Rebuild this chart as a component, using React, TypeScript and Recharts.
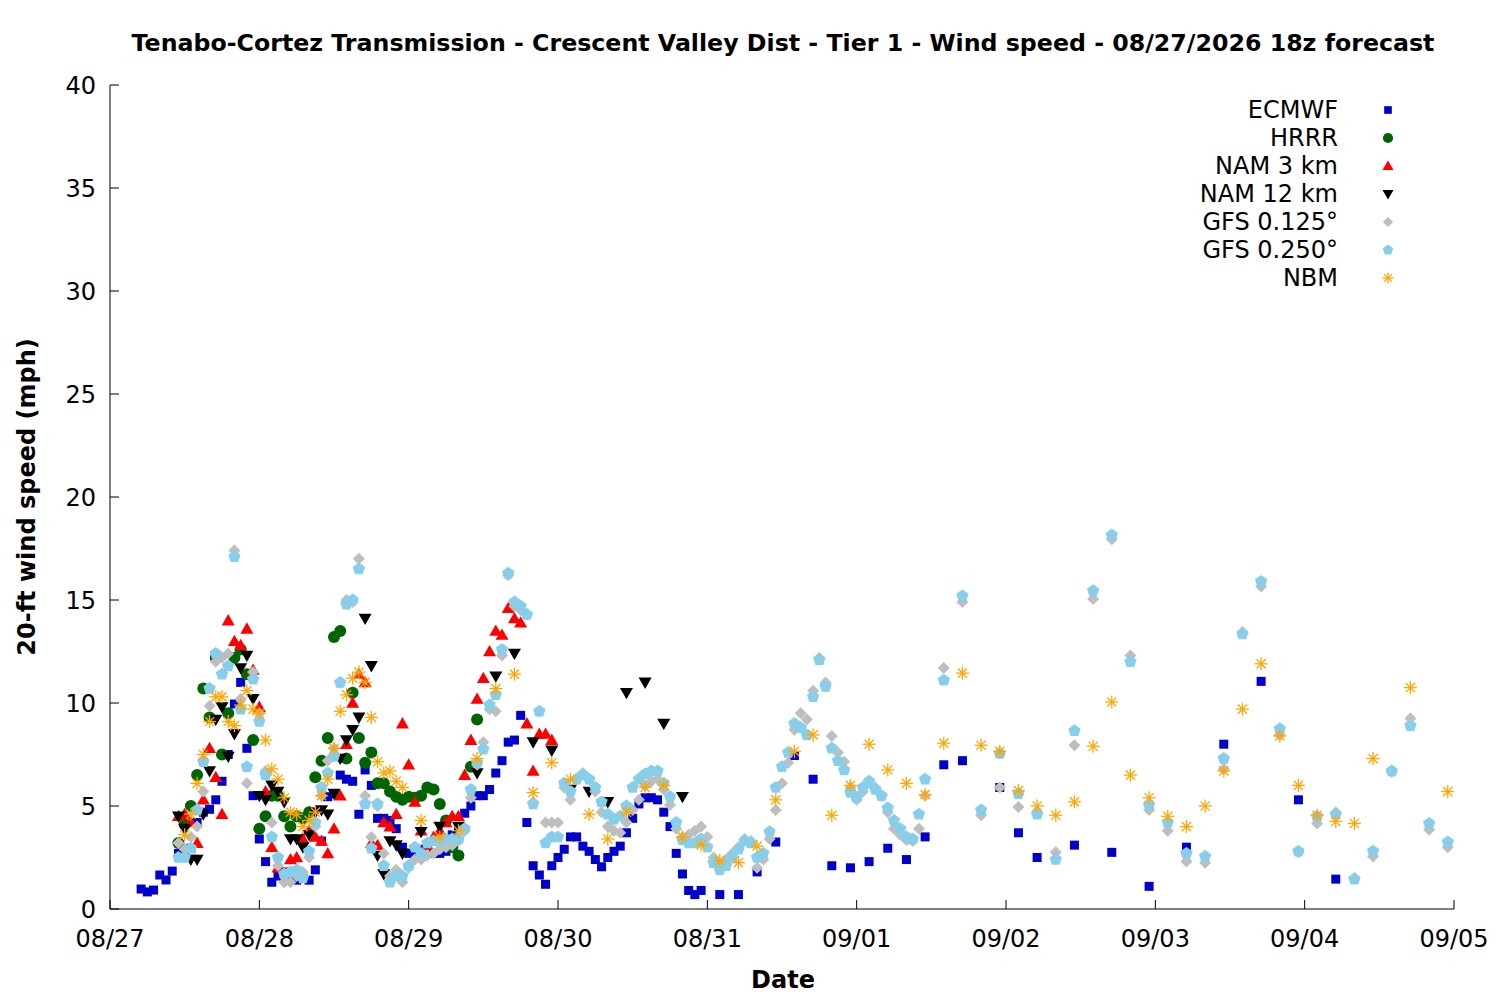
import React from 'react';
import { ScatterChart, Scatter, XAxis, YAxis } from 'recharts';

// hours after 08/27 00:00, wind speed (mph)
const ecmwf: [number, number][] = [
  [5,0.97],[6,0.83],[7,0.92],[8,1.65],[9,1.41],[10,1.84],[11,2.7],[12,2.6],[13,2.95],[14,4.2],
  [15,4.7],[16,4.84],[17,5.3],[18,6.2],[19,7.5],[20,9.95],[21,11.0],[22,7.8],[23,5.5],[24,3.4],
  [25,2.3],[26,1.3],[27,1.6],[28,1.8],[29,1.5],[30,1.4],[31,1.5],[32,1.4],[33,1.9],[34,3.3],
  [35,5.45],[36,5.6],[37,6.5],[38,6.3],[39,6.2],[40,4.6],[41,6.75],[42,6.0],[43,4.4],[44,4.4],
  [45,4.3],[46,3.9],[47,3.0],[48,2.7],[49,2.8],[50,2.9],[51,3.1],[52,2.7],[53,2.7],[54,2.8],
  [55,3.6],[56,4.0],[57,4.65],[58,5.0],[59,5.5],[60,5.5],[61,5.8],[62,6.6],[63,7.2],[64,8.1],
  [65,8.2],[66,9.4],[67,4.2],[68,2.1],[69,1.65],[70,1.2],[71,2.1],[72,2.5],[73,2.9],[74,3.5],
  [75,3.5],[76,3.05],[77,2.8],[78,2.4],[79,2.05],[80,2.5],[81,2.8],[82,3.05],[83,3.7],[84,4.4],
  [85,5.1],[86,5.4],[87,5.4],[88,5.3],[89,4.7],[90,4.0],[91,2.7],[92,1.7],[93,0.9],[94,0.7],
  [95,0.9],[98,0.7],[101,0.7],[104,1.8],[107,3.25],[110,7.45],[113,6.3],[116,2.1],[119,2.0],
  [122,2.3],[125,2.95],[128,2.4],[131,3.5],[134,7.0],[137,7.2],[143,5.9],[146,3.7],[149,2.5],
  [155,3.1],[161,2.75],[167,1.1],[173,3.0],[179,8.0],[185,11.05],[191,5.3],[197,1.45],
];

const hrrr: [number, number][] = [
  [11,3.2],[12,4.1],[13,5.0],[14,6.5],[15,10.7],[16,9.3],[17,12.2],[18,7.5],[19,9.5],[20,12.2],
  [21,12.6],[22,11.4],[23,8.2],[24,3.9],[25,4.5],[26,5.5],[27,5.5],[28,4.5],[29,4.0],[30,4.5],
  [31,4.4],[32,4.7],[33,6.4],[34,7.2],[35,8.3],[36,13.2],[37,13.5],[38,7.3],[39,10.5],[40,8.3],
  [41,7.1],[42,7.6],[43,6.1],[44,6.1],[45,5.7],[46,5.45],[47,5.3],[48,5.45],[49,5.4],[50,5.5],
  [51,5.9],[52,5.8],[53,5.1],[54,4.3],[55,3.0],[56,2.6],[58,6.9],[59,9.2],
];

const nam3: [number, number][] = [
  [11,4.5],[12,4.6],[13,4.2],[14,3.2],[15,5.3],[16,7.8],[17,6.4],[18,4.6],[19,14.0],[20,13.0],
  [21,12.8],[22,13.6],[23,11.6],[24,9.8],[25,5.7],[26,3.0],[27,2.0],[28,1.7],[29,2.4],[30,2.5],
  [31,3.4],[32,3.8],[33,3.5],[34,3.3],[35,2.7],[36,3.9],[37,5.5],[38,8.0],[39,10.0],[40,11.4],
  [41,11.0],[42,3.2],[43,3.1],[44,4.2],[45,4.0],[46,4.6],[47,9.0],[48,7.0],[49,5.2],[50,3.8],
  [51,3.1],[52,3.5],[53,3.8],[54,4.2],[55,4.5],[56,4.5],[57,6.5],[58,8.2],[59,10.2],[60,11.2],
  [61,12.5],[62,13.5],[63,13.3],[64,14.6],[65,14.1],[66,13.9],[67,9.0],[68,6.7],[69,8.5],[70,8.5],
  [71,8.2],
];

const nam12: [number, number][] = [
  [11,4.5],[12,3.9],[13,2.4],[14,2.4],[15,4.6],[16,6.7],[17,9.2],[18,9.8],[19,7.4],[20,8.5],
  [21,11.7],[22,12.3],[23,10.2],[24,5.5],[25,5.3],[26,6.0],[27,5.7],[28,5.2],[29,3.4],[30,3.4],
  [31,3.0],[32,3.6],[33,4.7],[34,4.8],[35,4.6],[36,5.6],[37,7.3],[38,8.2],[39,8.7],[40,9.3],
  [41,14.1],[42,11.8],[43,2.6],[44,1.7],[45,3.3],[46,3.1],[47,2.7],[50,3.75],[53,4.0],[56,4.0],
  [59,6.6],[62,11.3],[65,12.4],[68,8.1],[71,7.7],[74,5.8],[77,5.7],[80,5.2],[83,10.5],[86,11.0],
  [89,9.0],[92,5.45],
];

const gfs0125: [number, number][] = [
  [11,3.2],[12,2.9],[13,3.5],[14,4.0],[15,5.7],[16,9.85],[17,12.0],[18,12.2],[19,12.4],[20,17.4],
  [21,10.2],[22,6.1],[23,11.5],[24,9.5],[25,6.7],[26,4.2],[27,2.1],[28,1.3],[29,1.3],[30,1.6],
  [31,1.8],[32,2.5],[33,4.0],[34,5.5],[35,7.2],[36,7.8],[37,11.0],[38,15.0],[39,14.9],[40,17.0],
  [41,5.5],[42,3.5],[43,5.0],[44,2.7],[45,1.6],[46,1.9],[47,1.3],[48,2.0],[49,2.4],[50,2.4],
  [51,2.6],[52,2.7],[53,2.9],[54,3.0],[55,3.1],[56,3.3],[57,3.8],[58,5.4],[59,7.0],[60,8.1],
  [61,9.7],[62,9.6],[63,12.3],[64,16.2],[65,14.7],[66,14.5],[67,14.3],[68,5.2],[69,9.6],[70,4.2],
  [71,4.2],[72,4.2],[73,5.9],[74,5.3],[75,6.3],[76,6.6],[77,6.3],[78,5.7],[79,4.7],[80,4.0],
  [81,3.8],[82,3.7],[83,4.2],[84,4.8],[85,5.3],[86,6.0],[87,6.2],[88,6.3],[89,5.8],[90,5.05],
  [91,3.9],[92,3.5],[93,3.6],[94,3.8],[95,4.0],[96,3.5],[97,2.5],[98,2.2],[99,2.4],[100,2.7],
  [101,3.0],[102,3.4],[103,3.3],[104,2.0],[105,2.4],[106,3.4],[107,4.8],[108,6.1],[109,7.1],[110,8.7],
  [111,9.5],[112,9.2],[113,10.6],[114,12.2],[115,11.0],[116,8.4],[117,7.6],[118,7.15],[119,5.9],[120,5.3],
  [121,5.7],[122,6.1],[123,5.9],[124,5.5],[125,4.7],[126,3.9],[127,3.6],[128,3.35],[129,3.3],[130,3.9],
  [131,5.5],[134,11.7],[137,14.9],[140,4.55],[143,5.9],[146,4.95],[149,4.7],[152,2.75],[155,7.95],[158,15.05],
  [161,17.95],[164,12.3],[167,4.8],[170,3.8],[173,2.3],[176,2.25],[179,6.8],[182,13.45],[185,15.65],[188,8.45],
  [191,2.75],[194,4.15],[197,4.7],[200,1.5],[203,2.55],[206,6.65],[209,9.25],[212,3.85],[215,3.0],
];

const gfs0250: [number, number][] = [
  [11,2.5],[12,2.5],[13,2.95],[14,4.8],[15,7.15],[16,10.7],[17,12.4],[18,11.4],[19,11.8],[20,17.1],
  [21,9.7],[22,6.9],[23,11.15],[24,9.1],[25,6.5],[26,3.5],[27,2.5],[28,1.7],[29,1.8],[30,1.9],
  [31,1.5],[32,2.8],[33,4.2],[34,5.9],[35,6.6],[36,7.4],[37,11.0],[38,14.8],[39,15.0],[40,16.5],
  [41,5.1],[42,2.95],[43,5.1],[44,2.1],[45,1.3],[46,1.6],[47,1.6],[48,2.1],[49,3.0],[50,2.7],
  [51,3.2],[52,3.3],[53,3.3],[54,3.4],[55,3.4],[56,3.4],[57,3.9],[58,5.8],[59,7.1],[60,7.75],
  [61,9.9],[62,10.4],[63,12.6],[64,16.3],[65,14.9],[66,14.7],[67,14.3],[68,5.1],[69,9.6],[70,3.2],
  [71,3.5],[72,3.5],[73,6.1],[74,5.7],[75,6.3],[76,6.5],[77,6.3],[78,5.9],[79,5.2],[80,4.6],
  [81,4.35],[82,4.5],[83,5.0],[84,5.9],[85,6.3],[86,6.55],[87,6.7],[88,6.7],[89,6.1],[90,5.45],
  [91,4.2],[92,3.35],[93,3.2],[94,3.2],[95,3.4],[96,3.0],[97,2.25],[98,1.9],[99,2.1],[100,2.5],
  [101,2.9],[102,3.3],[103,3.2],[104,2.5],[105,2.7],[106,3.75],[107,5.9],[108,6.9],[109,7.6],[110,9.0],
  [111,8.8],[112,8.45],[113,10.3],[114,12.1],[115,10.8],[116,7.8],[117,7.2],[118,6.75],[119,5.65],[120,5.4],
  [121,5.9],[122,6.2],[123,5.8],[124,5.5],[125,4.9],[126,4.3],[127,3.9],[128,3.5],[129,3.4],[130,4.6],
  [131,6.3],[134,11.1],[137,15.2],[140,4.8],[143,7.55],[146,5.6],[149,4.6],[152,2.4],[155,8.65],[158,15.45],
  [161,18.15],[164,12.0],[167,5.05],[170,4.2],[173,2.7],[176,2.55],[179,7.3],[182,13.35],[185,15.9],[188,8.75],
  [191,2.8],[194,4.5],[197,4.6],[200,1.45],[203,2.8],[206,6.7],[209,8.9],[212,4.15],[215,3.25],
];

const nbm: [number, number][] = [
  [12,3.6],[13,4.6],[14,6.1],[15,7.5],[16,9.1],[17,10.3],[18,10.3],[19,9.1],[20,8.9],[21,9.9],
  [22,10.6],[23,9.7],[24,9.5],[25,8.2],[26,6.8],[27,6.3],[28,5.4],[29,4.7],[30,4.6],[31,4.0],
  [32,4.3],[33,4.7],[34,5.5],[35,6.3],[36,7.8],[37,9.6],[38,10.4],[39,11.2],[40,11.5],[41,11.0],
  [42,9.3],[43,7.15],[44,6.6],[45,6.7],[46,6.2],[47,5.9],[50,4.3],[53,3.5],[56,3.8],[59,7.3],
  [62,10.7],[65,11.4],[68,5.65],[71,7.1],[74,6.3],[77,4.6],[80,3.4],[83,4.7],[86,5.9],[89,6.0],
  [92,3.5],[95,3.1],[98,2.35],[101,2.25],[104,3.05],[107,5.3],[110,7.65],[113,8.45],[116,4.55],[119,6.0],
  [122,8.0],[125,6.75],[128,6.1],[131,5.55],[134,8.05],[137,11.45],[140,7.95],[143,7.65],[146,5.75],[149,5.0],
  [152,4.55],[155,5.2],[158,7.9],[161,10.05],[164,6.5],[167,5.4],[170,4.5],[173,4.0],[176,5.0],[179,6.7],
  [182,9.7],[185,11.9],[188,8.4],[191,6.0],[194,4.55],[197,4.25],[200,4.15],[203,7.3],[209,10.75],[215,5.7],
];

const xTicks = [0, 24, 48, 72, 96, 120, 144, 168, 192, 216];
const xTickLabels = ['08/27', '08/28', '08/29', '08/30', '08/31', '09/01', '09/02', '09/03', '09/04', '09/05'];
const yTicks = [0, 5, 10, 15, 20, 25, 30, 35, 40];

const FONT = '"DejaVu Sans", Verdana, sans-serif';
const FS = 24;

type Kind = 'square' | 'circle' | 'up' | 'down' | 'diamond' | 'pentagon' | 'star';

const series: { name: string; rows: [number, number][]; color: string; kind: Kind }[] = [
  { name: 'ECMWF', rows: ecmwf, color: '#0000CC', kind: 'square' },
  { name: 'HRRR', rows: hrrr, color: '#006400', kind: 'circle' },
  { name: 'NAM 3 km', rows: nam3, color: '#FF0000', kind: 'up' },
  { name: 'NAM 12 km', rows: nam12, color: '#000000', kind: 'down' },
  { name: 'GFS 0.125°', rows: gfs0125, color: '#BEBEBE', kind: 'diamond' },
  { name: 'GFS 0.250°', rows: gfs0250, color: '#87CEEB', kind: 'pentagon' },
  { name: 'NBM', rows: nbm, color: '#FFA500', kind: 'star' },
];

function marker(kind: Kind, cx: number, cy: number, color: string, s = 1) {
  switch (kind) {
    case 'square':
      return <rect x={cx - 4.5 * s} y={cy - 4.5 * s} width={9 * s} height={9 * s} fill={color} />;
    case 'circle':
      return <circle cx={cx} cy={cy} r={6 * s} fill={color} />;
    case 'up':
      return <polygon points={`${cx},${cy - 6.5 * s} ${cx + 6.5 * s},${cy + 4.8 * s} ${cx - 6.5 * s},${cy + 4.8 * s}`} fill={color} />;
    case 'down':
      return <polygon points={`${cx},${cy + 6.5 * s} ${cx + 6.5 * s},${cy - 4.8 * s} ${cx - 6.5 * s},${cy - 4.8 * s}`} fill={color} />;
    case 'diamond':
      return <polygon points={`${cx},${cy - 6 * s} ${cx + 6 * s},${cy} ${cx},${cy + 6 * s} ${cx - 6 * s},${cy}`} fill={color} />;
    case 'pentagon': {
      const r = 6.5 * s;
      const pts = [0, 1, 2, 3, 4]
        .map((i) => {
          const a = -Math.PI / 2 + (i * 2 * Math.PI) / 5;
          return `${cx + r * Math.cos(a)},${cy + r * Math.sin(a)}`;
        })
        .join(' ');
      return <polygon points={pts} fill={color} />;
    }
    case 'star': {
      const r = 6.5 * s;
      const d = 4.6 * s;
      return (
        <g stroke={color} strokeWidth={1.3}>
          <line x1={cx - r} y1={cy} x2={cx + r} y2={cy} />
          <line x1={cx} y1={cy - r} x2={cx} y2={cy + r} />
          <line x1={cx - d} y1={cy - d} x2={cx + d} y2={cy + d} />
          <line x1={cx - d} y1={cy + d} x2={cx + d} y2={cy - d} />
        </g>
      );
    }
  }
}

const TICK = 9;

const BottomTick = (p: any) => {
  const i = xTicks.indexOf(p.payload.value);
  return (
    <g>
      <line x1={p.x} y1={p.y} x2={p.x} y2={p.y - TICK} stroke="#000" />
      <text x={p.x} y={p.y + 38} textAnchor="middle" fontFamily={FONT} fontSize={FS} fill="#000">
        {i >= 0 ? xTickLabels[i] : ''}
      </text>
    </g>
  );
};
const TopTick = (p: any) => <line x1={p.x} y1={p.y} x2={p.x} y2={p.y + TICK} stroke="#000" />;
const LeftTick = (p: any) => (
  <g>
    <line x1={p.x} y1={p.y} x2={p.x + TICK} y2={p.y} stroke="#000" />
    <text x={p.x - 14} y={p.y + 8.5} textAnchor="end" fontFamily={FONT} fontSize={FS} fill="#000">
      {p.payload.value}
    </text>
  </g>
);
const RightTick = (p: any) => <line x1={p.x} y1={p.y} x2={p.x - TICK} y2={p.y} stroke="#000" />;

export default function App() {
  return (
    <div style={{ position: 'absolute', left: 0, top: 0, width: 1500, height: 1000, background: '#fff', fontFamily: FONT }}>
      <div
        style={{
          position: 'absolute', left: 83, top: 29, width: 1400, textAlign: 'center',
          fontSize: 23.7, fontWeight: 'bold', lineHeight: '28px', whiteSpace: 'nowrap',
        }}
      >
        Tenabo-Cortez Transmission - Crescent Valley Dist - Tier 1 - Wind speed - 08/27/2026 18z forecast
      </div>
      <ScatterChart width={1500} height={1000} margin={{ top: 85, right: 46, bottom: 0, left: 0 }}>
        <XAxis
          dataKey="t" type="number" domain={[0, 216]} ticks={xTicks} allowDataOverflow
          height={91} tickSize={0} tickMargin={0} tick={BottomTick} stroke="#000" tickLine={false}
        />
        <XAxis
          xAxisId="top" orientation="top" dataKey="t" type="number" domain={[0, 216]} ticks={xTicks}
          allowDataOverflow height={0} tickSize={0} tickMargin={0} tick={TopTick} stroke="#000" tickLine={false}
        />
        <YAxis
          dataKey="v" type="number" domain={[0, 40]} ticks={yTicks} allowDataOverflow
          width={110} tickSize={0} tickMargin={0} tick={LeftTick} stroke="#000" tickLine={false}
        />
        <YAxis
          yAxisId="right" orientation="right" dataKey="v" type="number" domain={[0, 40]} ticks={yTicks}
          allowDataOverflow width={0} tickSize={0} tickMargin={0} tick={RightTick} stroke="#000" tickLine={false}
        />
        {series.map((s) => (
          <Scatter
            key={s.name}
            name={s.name}
            data={s.rows.map(([t, v]) => ({ t, v }))}
            fill={s.color}
            isAnimationActive={false}
            shape={(p: any) => marker(s.kind, p.cx, p.cy, s.color)}
          />
        ))}
      </ScatterChart>
      <div
        style={{
          position: 'absolute', left: 27 - 250, top: 497 - 14, width: 500, height: 28, lineHeight: '28px',
          textAlign: 'center', fontSize: FS, fontWeight: 'bold', transform: 'rotate(-90deg)', whiteSpace: 'nowrap',
        }}
      >
        20-ft wind speed (mph)
      </div>
      <div
        style={{
          position: 'absolute', left: 583, top: 966, width: 400, textAlign: 'center', fontSize: FS,
          fontWeight: 'bold', lineHeight: '28px',
        }}
      >
        Date
      </div>
      <div style={{ position: 'absolute', left: 1000, top: 96, width: 398 }}>
        {series.map((s) => (
          <div key={s.name} style={{ display: 'flex', alignItems: 'center', height: 28 }}>
            <div style={{ width: 338, textAlign: 'right', fontSize: FS, lineHeight: '28px', whiteSpace: 'nowrap' }}>
              {s.name}
            </div>
            <svg width={60} height={28} style={{ display: 'block' }}>
              {marker(s.kind, 50, 14, s.color, 0.85)}
            </svg>
          </div>
        ))}
      </div>
    </div>
  );
}
